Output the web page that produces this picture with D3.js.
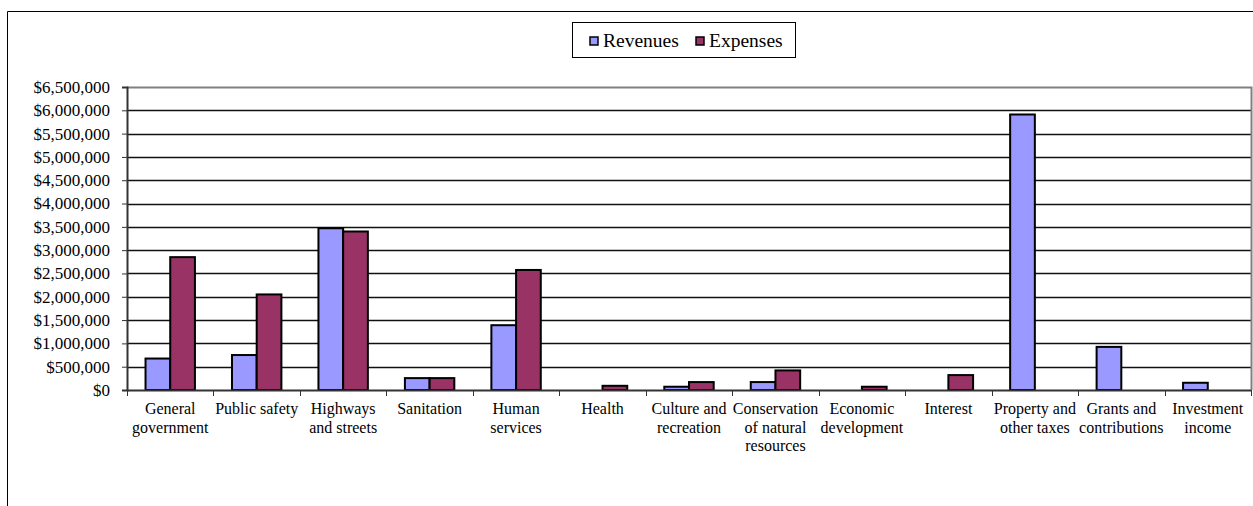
<!DOCTYPE html>
<html>
<head>
<meta charset="utf-8">
<script src="https://cdn.jsdelivr.net/npm/d3@7"></script>
<style>
  html, body { margin: 0; padding: 0; background: #fff; }
  svg { display: block; }
  text { font-family: "Liberation Serif", "Times New Roman", serif; fill: #000; }
</style>
</head>
<body>
<svg id="chart" width="1253" height="506"></svg>
<script>
const categories = [
  "General government", "Public safety", "Highways and streets", "Sanitation",
  "Human services", "Health", "Culture and recreation", "Conservation of natural resources",
  "Economic development", "Interest", "Property and other taxes", "Grants and contributions",
  "Investment income"
];
const categoryLabelLines = [
  ["General", "government"], ["Public safety"], ["Highways", "and streets"], ["Sanitation"],
  ["Human", "services"], ["Health"], ["Culture and", "recreation"], ["Conservation", "of natural", "resources"],
  ["Economic", "development"], ["Interest"], ["Property and", "other taxes"], ["Grants and", "contributions"],
  ["Investment", "income"]
];
const seriesNames = ["Revenues", "Expenses"];
const revenues = [675000, 750000, 3470000, 255000, 1390000, 0, 70000, 170000, 0, 0, 5910000, 925000, 155000];
const expenses = [2850000, 2050000, 3400000, 255000, 2575000, 90000, 170000, 420000, 70000, 320000, 0, 0, 0];
const yTicks = [0, 500000, 1000000, 1500000, 2000000, 2500000, 3000000, 3500000, 4000000, 4500000, 5000000, 5500000, 6000000, 6500000];
const seriesColors = ["#9999FF", "#993366"];

const svg = d3.select("#chart");
const plot = { left: 127, right: 1251, top: 87, bottom: 390 };
const FONT = '"Liberation Serif", "Times New Roman", serif';

// outer chart frame (extends past the visible window on right and bottom)
svg.append("path")
  .attr("d", `M7.5,520 L7.5,11.5 L1260,11.5`)
  .attr("fill", "none").attr("stroke", "#000").attr("stroke-width", 1);

const y = d3.scaleLinear().domain([0, 6500000]).range([plot.bottom, plot.top]);
const x0 = d3.scaleBand().domain(categories).range([plot.left, plot.right]).paddingInner(0).paddingOuter(0);
const x1 = d3.scaleBand().domain(seriesNames).range([0, x0.bandwidth()]).paddingInner(0).paddingOuter(0.75);

// gridlines
svg.append("g").selectAll("line")
  .data(yTicks.filter(t => t > 0 && t < 6500000))
  .join("line")
  .attr("x1", plot.left).attr("x2", plot.right)
  .attr("y1", d => Math.round(y(d)) + 0.5).attr("y2", d => Math.round(y(d)) + 0.5)
  .attr("stroke", "#111").attr("stroke-width", 1.3);

// plot area border (top & right, gray)
svg.append("path")
  .attr("d", `M${plot.left},${plot.top + 0.5} L${plot.right + 0.5},${plot.top + 0.5} L${plot.right + 0.5},${plot.bottom}`)
  .attr("fill", "none").attr("stroke", "#808080").attr("stroke-width", 2);

// bars
const data = categories.map((c, i) => ({ cat: c, vals: [revenues[i], expenses[i]] }));
const groups = svg.append("g").selectAll("g")
  .data(data).join("g")
  .attr("transform", d => `translate(${x0(d.cat)},0)`);
groups.selectAll("rect")
  .data(d => d.vals.map((v, k) => ({ key: seriesNames[k], v, k })).filter(e => e.v > 0))
  .join("rect")
  .attr("x", d => x1(d.key))
  .attr("width", x1.bandwidth())
  .attr("y", d => y(d.v))
  .attr("height", d => y(0) - y(d.v))
  .attr("fill", d => seriesColors[d.k])
  .attr("stroke", "#000").attr("stroke-width", 2);

// y axis
const yAxis = d3.axisLeft(y).tickValues(yTicks).tickSize(5).tickPadding(12)
  .tickFormat(d => "$" + d3.format(",")(d));
const gy = svg.append("g").attr("transform", `translate(${plot.left},0)`).call(yAxis);
gy.attr("font-family", FONT);
gy.select(".domain").attr("stroke", "#333").attr("stroke-width", 2);
gy.selectAll(".tick line").attr("stroke", "#333").attr("stroke-width", 1);
gy.selectAll(".tick text")
  .style("font-family", FONT)
  .style("font-size", "17px").attr("fill", "#000");

// x axis (ticks at category boundaries)
const gx = svg.append("g");
gx.append("line")
  .attr("x1", plot.left).attr("x2", plot.right)
  .attr("y1", plot.bottom + 0.5).attr("y2", plot.bottom + 0.5)
  .attr("stroke", "#333").attr("stroke-width", 2);
const boundaries = categories.map(c => x0(c)).concat([x0(categories[categories.length - 1]) + x0.bandwidth()]);
gx.selectAll("line.tk").data(boundaries).join("line").attr("class", "tk")
  .attr("x1", d => Math.round(d) + 0.5).attr("x2", d => Math.round(d) + 0.5)
  .attr("y1", plot.bottom).attr("y2", plot.bottom + 6)
  .attr("stroke", "#333").attr("stroke-width", 1);

// category labels
const labels = gx.selectAll("text.cl").data(categories).join("text").attr("class", "cl")
  .attr("text-anchor", "middle")
  .attr("transform", d => `translate(${x0(d) + x0.bandwidth() / 2},${plot.bottom + 24})`)
  .style("font-family", FONT)
  .style("font-size", "16px");
labels.each(function (d, i) {
  d3.select(this).selectAll("tspan").data(categoryLabelLines[i]).join("tspan")
    .attr("x", 0).attr("dy", (l, j) => j === 0 ? 0 : 18.5).text(l => l);
});

// legend
const legend = svg.append("g");
legend.append("rect")
  .attr("x", 572.5).attr("y", 22.5).attr("width", 223).attr("height", 35)
  .attr("fill", "#fff").attr("stroke", "#000").attr("stroke-width", 1);
const legendX = [590, 696];
seriesNames.forEach((s, k) => {
  legend.append("rect")
    .attr("x", legendX[k]).attr("y", 37).attr("width", 8).attr("height", 8)
    .attr("fill", seriesColors[k]).attr("stroke", "#000").attr("stroke-width", 1.5);
  legend.append("text")
    .attr("x", legendX[k] + 13).attr("y", 47)
    .style("font-family", FONT)
    .style("font-size", "19.5px").text(s);
});
</script>
</body>
</html>
